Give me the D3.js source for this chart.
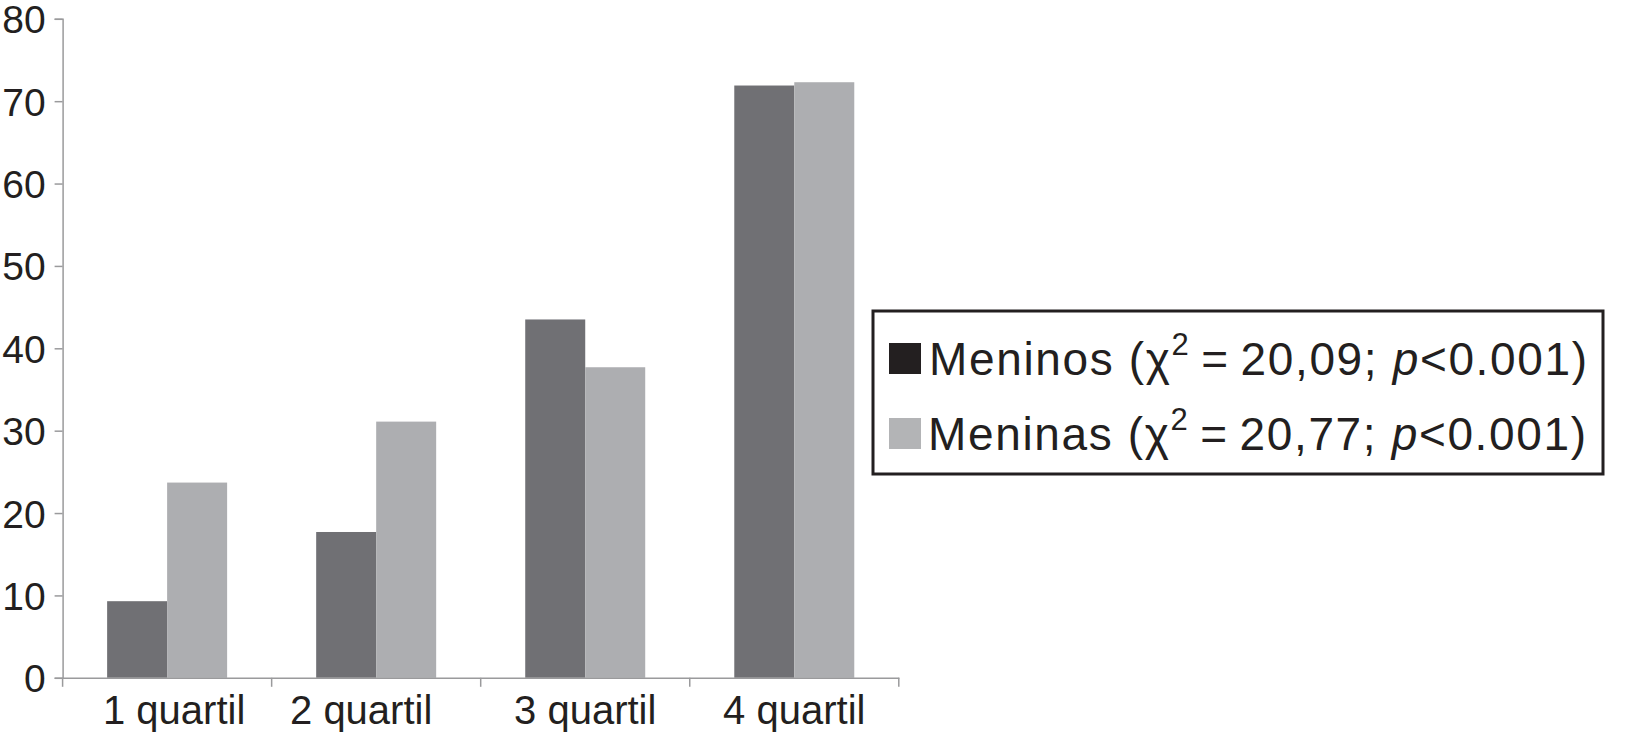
<!DOCTYPE html>
<html>
<head>
<meta charset="utf-8">
<script src="https://cdn.jsdelivr.net/npm/d3@7"></script>
<style>
  body { margin: 0; background: #fff; }
  text { font-family: "Liberation Sans", Arial, sans-serif; fill: #231f20; }
</style>
</head>
<body>
<svg class="d3svg" width="1635" height="736"></svg>
<script>
var categories = ["1 quartil", "2 quartil", "3 quartil", "4 quartil"];
var series = ["Meninos", "Meninas"];
var meninos = [9.3, 17.7, 43.5, 71.9];
var meninas = [23.7, 31.1, 37.7, 72.3];
var chi2 = ["20,09", "20,77"];
var y_ticks = [0, 10, 20, 30, 40, 50, 60, 70, 80];

var bar_colors = ["#707074", "#adaeb1"];
var swatch_colors = ["#231f20", "#b3b4b6"];
var axis_color = "#9a9a9c";
var label_shift = [7, -15, 0, 0]; // category labels sit a little off-centre in the original

var svg = d3.select(".d3svg");

var x0 = 62.6, x1 = 898.8, y0 = 677.8, y1 = 18.8;

var x = d3.scaleBand().domain(categories).range([x0, x1])
    .paddingInner(0.426).paddingOuter(0.213);
var xs = d3.scaleBand().domain(series).range([0, x.bandwidth()]);
var y = d3.scaleLinear().domain([0, 80]).range([y0, y1]);

var values = [meninos, meninas];

// bars
var groups = svg.append("g").selectAll("g")
    .data(categories)
    .enter().append("g")
    .attr("transform", function(d) { return "translate(" + x(d) + ",0)"; });

groups.selectAll("rect")
    .data(function(d, i) { return series.map(function(s, j) { return {s: s, v: values[j][i], j: j}; }); })
    .enter().append("rect")
    .attr("x", function(d) { return xs(d.s); })
    .attr("y", function(d) { return y(d.v); })
    .attr("width", xs.bandwidth())
    .attr("height", function(d) { return y(0) - y(d.v); })
    .attr("fill", function(d) { return bar_colors[d.j]; });

// y axis
var yAxis = svg.append("g")
    .attr("transform", "translate(" + x0 + ",0)")
    .call(d3.axisLeft(y).tickValues(y_ticks).tickSize(8).tickPadding(9));
yAxis.selectAll("line, path").attr("stroke", axis_color).attr("stroke-width", 1.5);
yAxis.selectAll("text").style("font-size", "39px").attr("dy", "0.36em")
    .attr("font-family", null).attr("fill", "#231f20");

// x axis
var xAxis = svg.append("g")
    .attr("transform", "translate(0," + y0 + ")")
    .call(d3.axisBottom(x).tickSize(0).tickPadding(18).tickSizeOuter(0));
xAxis.select("path").attr("stroke", axis_color).attr("stroke-width", 1.5);
xAxis.selectAll("text").style("font-size", "40px").attr("font-family", null).attr("fill", "#231f20")
    .attr("dx", function(d, i) { return label_shift[i]; });

var step = x.step();
var bounds = categories.map(function(d) { return x(d) - x.paddingInner() * step / 2; });
bounds.push(x1);
svg.append("g").selectAll("line")
    .data(bounds)
    .enter().append("line")
    .attr("x1", function(d) { return d; })
    .attr("x2", function(d) { return d; })
    .attr("y1", y0)
    .attr("y2", y0 + 9)
    .attr("stroke", axis_color)
    .attr("stroke-width", 1.5);

// legend
var legend = svg.append("g");
legend.append("rect")
    .attr("x", 873).attr("y", 311)
    .attr("width", 730).attr("height", 163)
    .attr("fill", "none").attr("stroke", "#231f20").attr("stroke-width", 3);

var rows = legend.selectAll(".row")
    .data(series)
    .enter().append("g")
    .attr("class", "row")
    .attr("transform", function(d, i) { return "translate(889," + (343 + i * 75) + ")"; });

rows.append("rect")
    .attr("width", 32).attr("height", 31)
    .attr("fill", function(d, i) { return swatch_colors[i]; });

var lt = rows.append("text")
    .attr("x", function(d, i) { return i === 0 ? 40 : 39; })
    .attr("y", 32)
    .attr("textLength", 658)
    .attr("lengthAdjust", "spacing")
    .style("font-size", "46px");
lt.append("tspan").text(function(d) { return d + " ("; });
lt.append("tspan").text("\u03c7");
lt.append("tspan").attr("dy", -20).style("font-size", "31px").text("2");
lt.append("tspan").attr("dy", 20).text(function(d, i) { return "\u2009=\u2009" + chi2[i] + "; "; });
lt.append("tspan").style("font-style", "italic").text("p");
lt.append("tspan").text("<0.001)");
</script>
</body>
</html>
